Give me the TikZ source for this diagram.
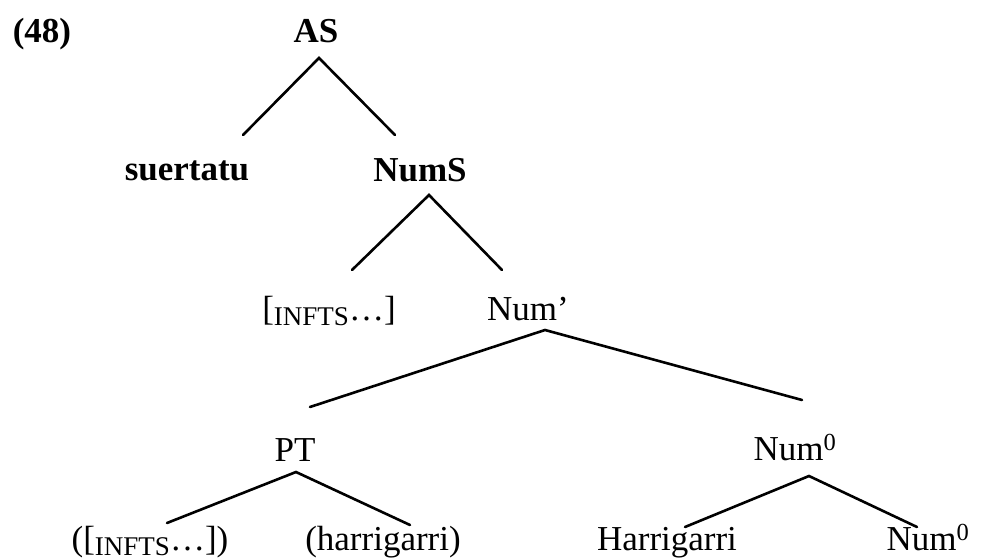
\documentclass[tikz,border=0pt]{standalone}
\usepackage{fontspec}
\setmainfont{Liberation Serif}
\newcommand\myinfts{\raisebox{-0.17em}{\fontsize{27}{30}\selectfont INFTS}}
\begin{document}
\begin{tikzpicture}[x=1pt,y=-1pt,
  lbl/.style={anchor=base, inner sep=0pt, font=\fontsize{35}{40}\selectfont},
  blbl/.style={anchor=base, inner sep=0pt, font=\fontsize{35}{40}\selectfont\bfseries},
  edge/.style={line width=2.6pt, line cap=round, line join=miter}]
\useasboundingbox (0,0) rectangle (997,560);
\fill[white] (0,0) rectangle (997,560);

% labels
\node[blbl] (ex) at (42,42) {(48)};
\node[blbl] (AS) at (316,42) {AS};
\node[blbl] (suertatu) at (187,180) {suertatu};
\node[blbl] (NumS) at (420,181) {NumS};
\node[lbl] (infts) at (329,320) {[\myinfts\ldots]};
\node[lbl] (Numbar) at (528,320) {Num’};
\node[lbl] (PT) at (295,461) {PT};
\node[lbl] (Num0) at (795,460) {Num\textsuperscript{0}};
\node[lbl] (leafA) at (150,550) {([\myinfts\ldots])};
\node[lbl] (leafB) at (383,550) {(harrigarri)};
\node[lbl] (leafC) at (667,550) {Harrigarri};
\node[lbl] (leafD) at (928,550) {Num\textsuperscript{0}};

% branch points
\coordinate (AS-a) at (319,58);
\coordinate (AS-l) at (243,135);
\coordinate (AS-r) at (395,135);
\coordinate (NumS-a) at (429,195);
\coordinate (NumS-l) at (352,270);
\coordinate (NumS-r) at (502,270);
\coordinate (Numbar-a) at (545,330);
\coordinate (Numbar-l) at (310,407);
\coordinate (Numbar-r) at (802,400);
\coordinate (PT-a) at (296,472);
\coordinate (PT-l) at (167,523);
\coordinate (PT-r) at (410,525);
\coordinate (Num0-a) at (809,476);
\coordinate (Num0-l) at (685,527);
\coordinate (Num0-r) at (917,527);

\draw[edge] (AS-l) -- (AS-a) -- (AS-r);
\draw[edge] (NumS-l) -- (NumS-a) -- (NumS-r);
\draw[edge] (Numbar-l) -- (Numbar-a) -- (Numbar-r);
\draw[edge] (PT-l) -- (PT-a) -- (PT-r);
\draw[edge] (Num0-l) -- (Num0-a) -- (Num0-r);
\end{tikzpicture}
\end{document}
